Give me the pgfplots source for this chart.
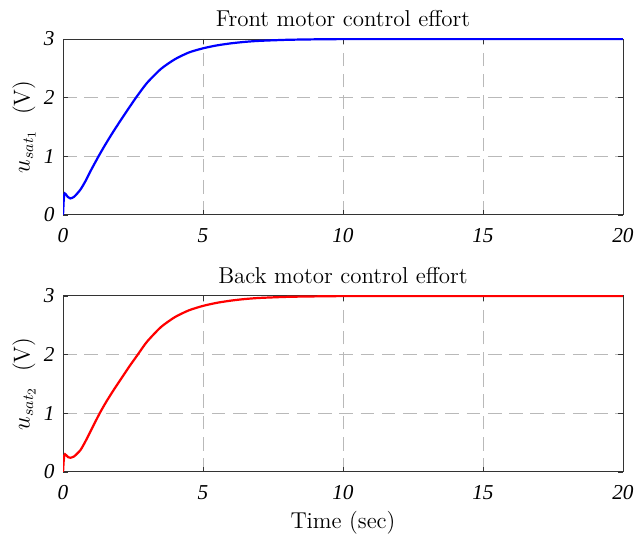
\documentclass[border=0pt]{standalone}
\usepackage{fontspec}
\newfontfamily\tickfont{Liberation Serif}
\usepackage{pgfplots}
\pgfplotsset{compat=1.18}
\begin{document}
\begin{tikzpicture}
\pgfplotsset{
  every axis/.append style={
    scale only axis, width=329.4pt, height=103.5pt,
    xmin=0, xmax=20, ymin=0, ymax=3,
    xtick={0,5,10,15,20}, ytick={0,1,2,3},
    grid=major,
    major grid style={gray!55, dash pattern=on 8pt off 4.5pt, line width=0.5pt},
    axis line style={black!80, line width=0.5pt},
    tick style={black!80},
    major tick length=3pt,
    tick align=inside,
    ticklabel style={font=\tickfont\itshape\fontsize{12.5}{13}\selectfont},
    xticklabel style={yshift=-4.5pt},
    yticklabel style={xshift=-1.5pt},
    /pgf/number format/assume math mode=true,
    title style={font=\fontsize{13.5}{15}\selectfont, yshift=-2.5pt},
    label style={font=\fontsize{13.5}{15}\selectfont},
    ylabel style={yshift=-2pt},
  }
}
\begin{axis}[name=top, at={(0,0)}, anchor=south west,
  title={Front motor control effort},
  ylabel={$u_{sat_1}$\ \ (V)}]
\addplot[blue, line width=1.3pt, smooth, tension=0.4] coordinates {
(0,0) (0.02,0.22) (0.04,0.34) (0.06,0.365) (0.1,0.35) (0.17,0.305) (0.26,0.28) (0.4,0.31)
(0.62,0.43) (0.8,0.575) (0.98,0.745) (1.27,1.0) (1.5,1.19) (1.75,1.385)
(2.0,1.57) (2.3,1.785) (2.6,1.995) (3.0,2.25) (3.5,2.49) (4.0,2.655) (4.5,2.77)
(5.0,2.84) (5.5,2.89) (6.0,2.925) (6.5,2.95) (7.0,2.967) (8.0,2.985) (9.0,2.993) (10,2.997) (12,3.0) (20,3.0)
};
\end{axis}
\begin{axis}[name=bot, at={(0,-47.7pt)}, anchor=north west,
  title={Back motor control effort},
  ylabel={$u_{sat_2}$\ \ (V)},
  xlabel={Time (sec)}]
\addplot[red, line width=1.3pt, smooth, tension=0.4] coordinates {
(0,0) (0.02,0.17) (0.045,0.28) (0.07,0.30) (0.12,0.28) (0.18,0.25) (0.26,0.24) (0.4,0.265)
(0.62,0.37) (0.8,0.52) (0.98,0.69) (1.31,1.0) (1.55,1.2) (1.8,1.39)
(2.05,1.57) (2.35,1.785) (2.67,2.0) (3.0,2.22) (3.5,2.47) (4.0,2.64) (4.5,2.755)
(5.0,2.83) (5.5,2.883) (6.0,2.92) (6.5,2.947) (7.0,2.965) (8.0,2.984) (9.0,2.992) (10,2.997) (12,3.0) (20,3.0)
};
\end{axis}
\useasboundingbox (-37.1pt,-187.1pt) rectangle (341.8pt,126.4pt);
\end{tikzpicture}
\end{document}
